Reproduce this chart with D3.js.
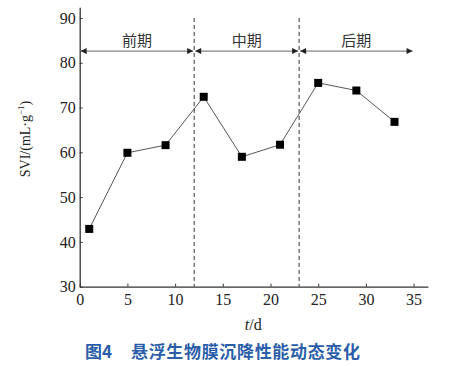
<!DOCTYPE html>
<html><head><meta charset="utf-8">
<script src="https://cdn.jsdelivr.net/npm/d3@7"></script>
<style>body{margin:0;background:#fff}svg{display:block}</style>
</head><body>
<script>
const days = [1, 5, 9, 13, 17, 21, 25, 29, 33];
const svi = [42.9, 59.9, 61.6, 72.4, 59.0, 61.7, 75.5, 73.8, 66.8];
const xTicks = [0, 5, 10, 15, 20, 25, 30, 35];
const yTicks = [30, 40, 50, 60, 70, 80, 90];
const phaseBounds = [0, 12, 23, 35];
const phaseLabels = ["前期", "中期", "后期"];
const dividers = [12, 23];
const arrowY = 82.6;
const captionNum = "图4";
const captionText = "悬浮生物膜沉降性能动态变化";

const W = 455, H = 366;
const svg = d3.select("body").append("svg").attr("width", W).attr("height", H);
const x = d3.scaleLinear().domain([0, 36.5]).range([79.7, 427.9]);
const y = d3.scaleLinear().domain([30, 92.4]).range([286.7, 7.2]);
const serif = "'Liberation Serif','Times New Roman',serif";

const defs = svg.append("defs");
defs.append("marker").attr("id", "ah").attr("viewBox", "0 0 10 10").attr("refX", 10).attr("refY", 5)
  .attr("markerWidth", 9).attr("markerHeight", 6).attr("markerUnits", "userSpaceOnUse").attr("orient", "auto-start-reverse")
  .append("path").attr("d", "M0,0L10,5L0,10z").attr("fill", "#222");

// axes
const xAxis = d3.axisBottom(x).tickValues(xTicks).tickSizeInner(-3).tickSizeOuter(0).tickPadding(6);
const gx = svg.append("g").attr("transform", `translate(0,${y(30)})`).call(xAxis);
const yAxis = d3.axisLeft(y).tickValues(yTicks).tickSizeInner(-3).tickSizeOuter(0).tickPadding(4);
const gy = svg.append("g").attr("transform", `translate(${x(0)},0)`).call(yAxis);
[gx, gy].forEach(g => {
  g.select(".domain").attr("stroke", "#333").attr("stroke-width", 1.3);
  g.selectAll(".tick line").attr("stroke", "#333").attr("stroke-width", 1);
  g.selectAll("text").attr("font-family", serif).attr("font-size", 16).attr("fill", "#222");
});
gx.selectAll("text").attr("dy", "0.75em");

// dividers
svg.selectAll(".div").data(dividers).enter().append("line")
  .attr("x1", d => x(d)).attr("x2", d => x(d)).attr("y1", y(90)).attr("y2", y(30))
  .attr("stroke", "#333").attr("stroke-width", 1).attr("stroke-dasharray", "4,3");

// phase arrows
const phases = phaseLabels.map((l, i) => ({label: l, a: phaseBounds[i], b: phaseBounds[i + 1]}));
svg.selectAll(".arr").data(phases).enter().append("line")
  .attr("x1", d => x(d.a) + 1).attr("x2", d => x(d.b) - 1)
  .attr("y1", y(arrowY)).attr("y2", y(arrowY))
  .attr("stroke", "#666").attr("stroke-width", 1)
  .attr("marker-start", "url(#ah)").attr("marker-end", "url(#ah)");
svg.selectAll(".plab").data(phases).enter().append("text")
  .attr("x", d => x((d.a + d.b) / 2)).attr("y", y(arrowY) - 5)
  .attr("text-anchor", "middle").attr("font-family", "'Noto Sans CJK SC',sans-serif")
  .attr("font-size", 15).attr("fill", "#333").text(d => d.label);

// data line
svg.append("path").datum(days.map((d, i) => [d, svi[i]]))
  .attr("d", d3.line().x(d => x(d[0])).y(d => y(d[1])))
  .attr("fill", "none").attr("stroke", "#444").attr("stroke-width", 0.9);
svg.selectAll(".pt").data(days.map((d, i) => [d, svi[i]])).enter().append("rect")
  .attr("x", d => x(d[0]) - 4).attr("y", d => y(d[1]) - 4).attr("width", 8).attr("height", 8).attr("fill", "#000");

// axis titles
const yt = svg.append("text").attr("transform", `translate(30,139) rotate(-90)`)
  .attr("text-anchor", "middle").attr("font-family", serif).attr("font-size", 14).attr("fill", "#222");
yt.append("tspan").text("SVI/(mL·g");
yt.append("tspan").attr("dy", -6).attr("font-size", 9).text("−1");
yt.append("tspan").attr("dy", 6).text(")");

const xt = svg.append("text").attr("x", x(18.2)).attr("y", 330).attr("text-anchor", "middle")
  .attr("font-family", serif).attr("font-size", 16).attr("fill", "#222");
xt.append("tspan").attr("font-style", "italic").text("t");
xt.append("tspan").text("/d");

const cap = svg.append("g").attr("font-family", "'Noto Sans CJK SC',sans-serif").attr("font-weight", "bold")
  .attr("font-size", 17).attr("fill", "#2b5ea8");
cap.append("text").attr("x", 85).attr("y", 358).text(captionNum);
cap.append("text").attr("x", 131).attr("y", 358).attr("textLength", 229).text(captionText);
</script>
</body></html>
